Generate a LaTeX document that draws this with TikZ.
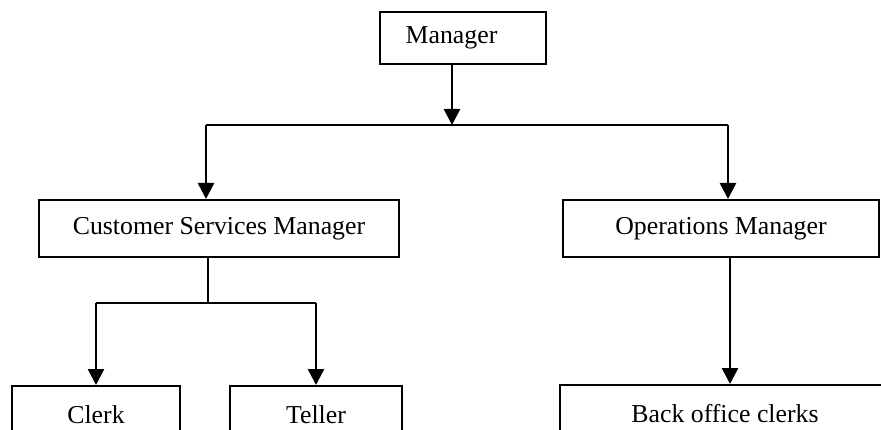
\documentclass[tikz,border=0pt]{standalone}
\usepackage{fontspec}
\setmainfont{Liberation Serif}
\usetikzlibrary{arrows.meta}
\begin{document}
\begin{tikzpicture}[x=1pt,y=-1pt,
  box/.style={draw=black,line width=2pt,inner sep=0pt,
    font=\fontsize{25.8}{30}\selectfont,text=black},
  link/.style={line width=2.6pt,black},
  arr/.style={link,-{Triangle[width=16pt,length=16pt]}}]
\useasboundingbox (0,0) rectangle (881,430);
\clip (0,0) rectangle (881,430);
\fill[white] (0,0) rectangle (881,430);

% boxes
\node[box,minimum width=166pt,minimum height=52pt] (mgr) at (463,38) {Manager\hspace*{23pt}};
\node[box,minimum width=360pt,minimum height=57pt] (csm) at (219,228.5) {Customer Services Manager};
\node[box,minimum width=316pt,minimum height=57pt] (om) at (721,228.5) {Operations Manager};
\node[box,minimum width=168pt,minimum height=57pt] (clerk) at (96,414.5) {Clerk};
\node[box,minimum width=172pt,minimum height=57pt] (teller) at (316,414.5) {Teller};
\node[box,minimum width=330pt,minimum height=57pt] (back) at (725,413.5) {Back office clerks};

% junction points
\coordinate (top) at (452,125);
\coordinate (jl) at (206,125);
\coordinate (jr) at (728,125);
\coordinate (mid) at (208,303);
\coordinate (ml) at (96,303);
\coordinate (mr) at (316,303);
\coordinate (opx) at (730,0);

% connectors
\draw[arr] (mgr.south -| top) -- (top);
\draw[link] (jl) -- (jr);
\draw[arr] (jl) -- (jl |- csm.north);
\draw[arr] (jr) -- (jr |- om.north);
\draw[link] (csm.south -| mid) -- (mid);
\draw[link] (ml) -- (mr);
\draw[arr] (ml) -- (ml |- clerk.north);
\draw[arr] (mr) -- (mr |- teller.north);
\draw[arr] (om.south -| opx) -- (back.north -| opx);
\end{tikzpicture}
\end{document}
